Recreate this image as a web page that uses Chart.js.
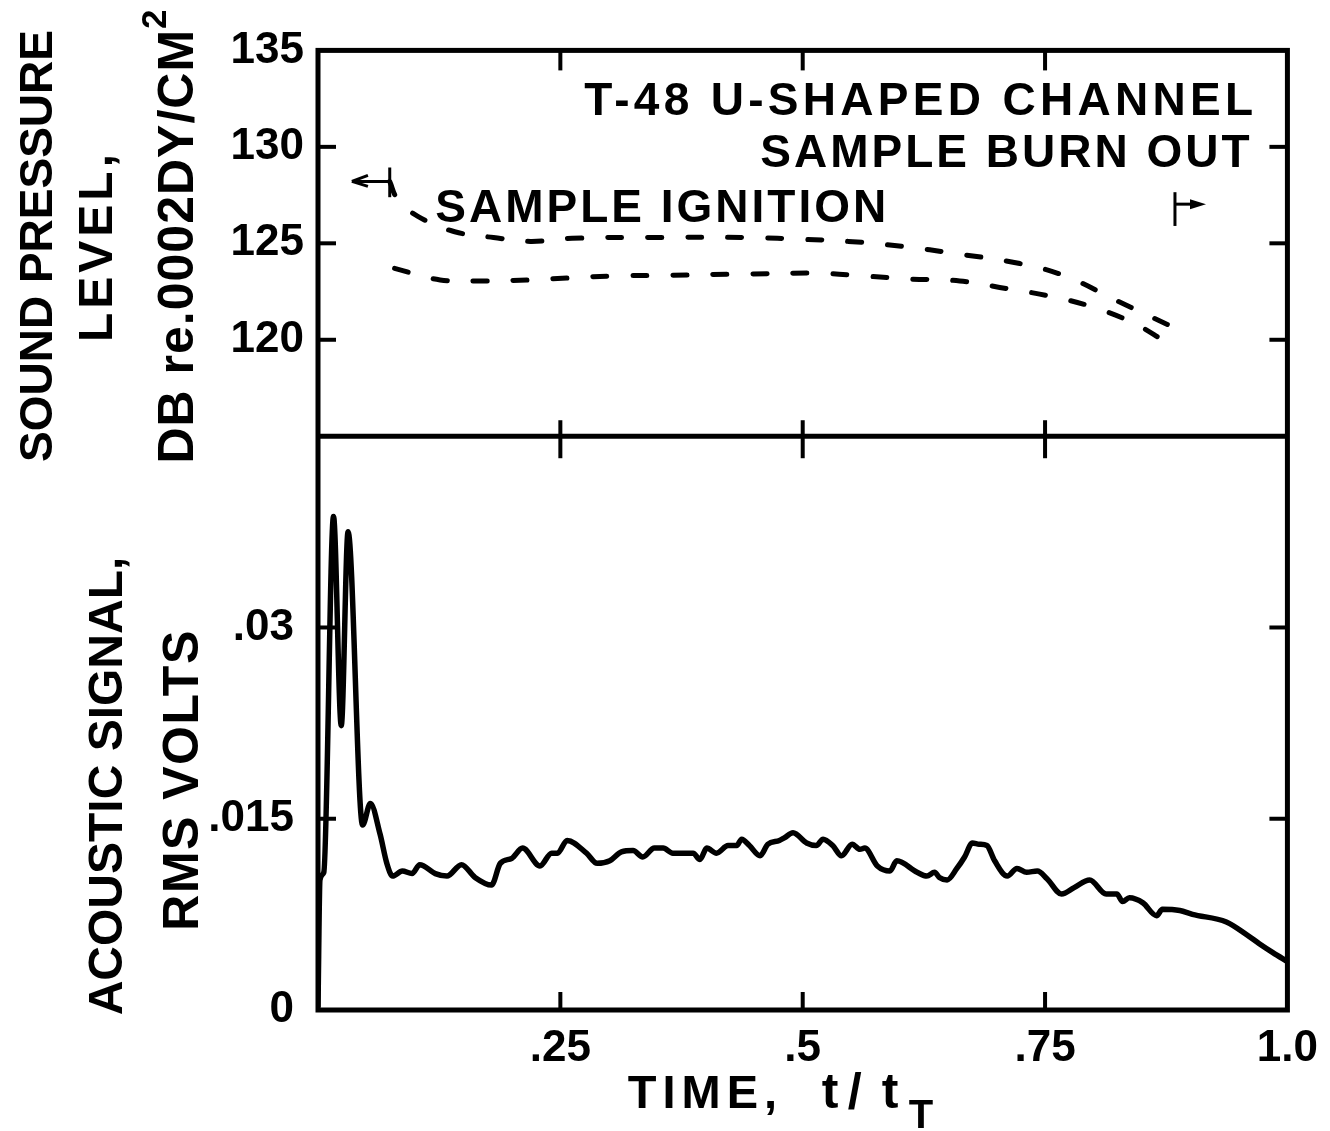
<!DOCTYPE html>
<html lang="en">
<head>
<meta charset="UTF-8">
<title>T-48 U-shaped channel: sound pressure level and acoustic signal</title>
<script src="https://cdn.jsdelivr.net/npm/chart.js@4.4.1/dist/chart.umd.min.js"></script>
<style>
  html, body { margin: 0; padding: 0; background: #fff; }
  #wrap { width: 1330px; height: 1131px; position: relative; }
</style>
</head>
<body>
<div id="wrap"><canvas id="myChart"></canvas></div>
<script>
// upper panel - sound pressure level (dB), two dashed traces
const splUpperTime = [0.074, 0.082, 0.103, 0.141, 0.181, 0.219, 0.262, 0.342, 0.445, 0.503, 0.547, 0.602, 0.660, 0.724, 0.771, 0.825, 0.878];
const splUpper     = [128.2, 127.3, 126.4, 125.6, 125.3, 125.1, 125.26, 125.3, 125.3, 125.2, 125.1, 124.85, 124.45, 123.95, 123.3, 122.0, 120.75];
const splLowerTime = [0.079, 0.126, 0.171, 0.216, 0.257, 0.301, 0.365, 0.435, 0.515, 0.565, 0.610, 0.662, 0.711, 0.751, 0.796, 0.842, 0.874];
const splLower     = [123.7, 123.1, 123.05, 123.1, 123.2, 123.3, 123.35, 123.4, 123.45, 123.3, 123.15, 123.05, 122.65, 122.3, 121.75, 120.85, 119.9];

// lower panel - acoustic signal (rms volts)
const acousticTime = [0.000, 0.002, 0.006, 0.016, 0.024, 0.031, 0.046, 0.054, 0.064, 0.071, 0.077, 0.087, 0.097, 0.105, 0.121, 0.133, 0.148, 0.162, 0.179, 0.188,
  0.200, 0.211, 0.229, 0.241, 0.247, 0.257, 0.277, 0.288, 0.301, 0.313, 0.325, 0.335, 0.347, 0.356, 0.366, 0.387, 0.394, 0.401, 0.411, 0.423,
  0.432, 0.437, 0.445, 0.456, 0.464, 0.476, 0.481, 0.490, 0.504, 0.514, 0.521, 0.531, 0.540, 0.551, 0.559, 0.564, 0.577, 0.590, 0.597, 0.618,
  0.628, 0.636, 0.641, 0.649, 0.659, 0.667, 0.675, 0.682, 0.690, 0.698, 0.711, 0.721, 0.731, 0.742, 0.752, 0.767, 0.780, 0.796, 0.813, 0.824,
  0.830, 0.837, 0.851, 0.865, 0.871, 0.889, 0.902, 0.937, 0.958, 0.971, 0.985, 1.000];
const acousticVolts = [0.0002, 0.0102, 0.0108, 0.0387, 0.0223, 0.0375, 0.0145, 0.0162, 0.0138, 0.0115, 0.0105, 0.0109, 0.0107, 0.0114, 0.0107, 0.0105, 0.0114, 0.0104, 0.0098, 0.0115,
  0.0119, 0.0127, 0.0113, 0.0123, 0.0123, 0.0133, 0.0123, 0.0115, 0.0117, 0.0124, 0.0125, 0.0120, 0.0127, 0.0127, 0.0123, 0.0123, 0.0118, 0.0127, 0.0123, 0.0129,
  0.0129, 0.0134, 0.0129, 0.0121, 0.0130, 0.0133, 0.0135, 0.0139, 0.0131, 0.0129, 0.0134, 0.0129, 0.0121, 0.0130, 0.0126, 0.0127, 0.0113, 0.0109, 0.0117, 0.0108,
  0.0105, 0.0108, 0.0104, 0.0102, 0.0111, 0.0120, 0.0131, 0.0130, 0.0129, 0.0117, 0.0105, 0.0111, 0.0108, 0.0109, 0.0103, 0.0091, 0.0096, 0.0102, 0.0091, 0.0091,
  0.0085, 0.0088, 0.0084, 0.0074, 0.0079, 0.0078, 0.0075, 0.0069, 0.0059, 0.0052, 0.0045, 0.0038];

// tick values and labels
const timeTicks = [0.25, 0.5, 0.75, 1.0];
const timeTickLabels = ['.25', '.5', '.75', '1.0'];
const splTicks = [120, 125, 130, 135];
const splTickLabels = ['120', '125', '130', '135'];
const voltTicks = [0, 0.015, 0.03];
const voltTickLabels = ['0', '.015', '.03'];

const FONT = '"Liberation Sans", Arial, sans-serif';

function pts(xs, ys) {
  return xs.map((x, i) => ({ x: x, y: ys[i] }));
}

function seg(ctx, x1, y1, x2, y2) {
  ctx.beginPath();
  ctx.moveTo(x1, y1);
  ctx.lineTo(x2, y2);
  ctx.stroke();
}

// vertical text, baseline on the right side of the letters
function vtext(ctx, s, bx, cy, size, spacing, sup) {
  ctx.save();
  ctx.translate(bx, cy);
  ctx.rotate(-Math.PI / 2);
  ctx.textBaseline = 'alphabetic';
  ctx.textAlign = 'left';
  ctx.letterSpacing = (spacing || 0) + 'px';
  ctx.font = 'bold ' + size + 'px ' + FONT;
  let w = ctx.measureText(s).width;
  let ws = 0;
  const supFont = 'bold ' + Math.round(size * 0.7) + 'px ' + FONT;
  if (sup) {
    ctx.font = supFont;
    ws = ctx.measureText(sup).width;
  }
  ctx.font = 'bold ' + size + 'px ' + FONT;
  ctx.fillText(s, -(w + ws) / 2, 0);
  if (sup) {
    ctx.font = supFont;
    ctx.fillText(sup, -(w + ws) / 2 + w, -size * 0.55);
  }
  ctx.restore();
}

function htext(ctx, s, x, y, size, align, spacing) {
  ctx.save();
  ctx.font = 'bold ' + size + 'px ' + FONT;
  ctx.letterSpacing = (spacing || 0) + 'px';
  ctx.textAlign = align;
  ctx.textBaseline = 'alphabetic';
  ctx.fillText(s, x, y);
  ctx.restore();
}

// frame, inward ticks, divider, notes and axis titles
const paperPlugin = {
  id: 'paper',
  afterDraw(chart) {
    const ctx = chart.ctx;
    const a = chart.chartArea;
    const xs = chart.scales.x;
    const yS = chart.scales.ySpl;
    const yV = chart.scales.yVolt;
    ctx.save();
    ctx.strokeStyle = '#000';
    ctx.fillStyle = '#000';
    ctx.lineWidth = 5;
    ctx.strokeRect(a.left, a.top, a.right - a.left, a.bottom - a.top);
    const mid = yS.bottom;
    seg(ctx, a.left, mid, a.right, mid);

    // ticks pointing into the panels
    ctx.lineWidth = 4;
    splTicks.slice(0, 3).forEach(v => {
      const y = yS.getPixelForValue(v);
      seg(ctx, a.left, y, a.left + 18, y);
      seg(ctx, a.right - 18, y, a.right, y);
    });
    voltTicks.slice(1).forEach(v => {
      const y = yV.getPixelForValue(v);
      seg(ctx, a.left, y, a.left + 18, y);
      seg(ctx, a.right - 18, y, a.right, y);
    });
    timeTicks.slice(0, 3).forEach(v => {
      const x = xs.getPixelForValue(v);
      seg(ctx, x, a.top, x, a.top + 20);
      seg(ctx, x, mid - 16, x, mid + 22);
      seg(ctx, x, a.bottom - 18, x, a.bottom);
    });

    // ignition / burn out markers
    ctx.lineWidth = 3;
    let x0 = xs.getPixelForValue(0.074);
    seg(ctx, x0, yS.getPixelForValue(128.93), x0, yS.getPixelForValue(127.39));
    let ya = yS.getPixelForValue(128.21);
    let xt = xs.getPixelForValue(0.035);
    seg(ctx, x0, ya, xt, ya);
    seg(ctx, xt, ya, xt + 16, ya - 6);
    seg(ctx, xt, ya, xt + 16, ya + 5);
    let x1 = xs.getPixelForValue(0.884);
    seg(ctx, x1, yS.getPixelForValue(127.65), x1, yS.getPixelForValue(125.9));
    let yb = yS.getPixelForValue(127.03);
    let xr = xs.getPixelForValue(0.916);
    seg(ctx, x1, yb, xr - 10, yb);
    ctx.beginPath();
    ctx.moveTo(xr, yb);
    ctx.lineTo(xr - 16, yb - 5);
    ctx.lineTo(xr - 16, yb + 5);
    ctx.closePath();
    ctx.fill();

    // notes inside the upper panel
    htext(ctx, 'T-48 U-SHAPED CHANNEL', xs.getPixelForValue(0.969), yS.getPixelForValue(131.66), 46, 'right', 4.3);
    htext(ctx, 'SAMPLE BURN OUT', xs.getPixelForValue(0.964), yS.getPixelForValue(128.98), 46, 'right', 3);
    htext(ctx, 'SAMPLE IGNITION', xs.getPixelForValue(0.121), yS.getPixelForValue(126.1), 46, 'left', 3);

    // x axis title, t/t with subscript T
    htext(ctx, 'TIME,', xs.getPixelForValue(0.3196), 1108, 47, 'left', 6);
    htext(ctx, 't', xs.getPixelForValue(0.5196), 1108, 50, 'left', 0);
    htext(ctx, '/', xs.getPixelForValue(0.5464), 1108, 50, 'left', 0);
    htext(ctx, 't', xs.getPixelForValue(0.5815), 1108, 50, 'left', 0);
    htext(ctx, 'T', xs.getPixelForValue(0.6093), 1128, 40, 'left', 0);

    // y axis titles
    vtext(ctx, 'SOUND PRESSURE', 52, 246, 46, 0);
    vtext(ctx, 'LEVEL,', 112, 246, 48, 4);
    vtext(ctx, 'DB re.0002DY/CM', 193, 236, 50, 1, '2');
    vtext(ctx, 'ACOUSTIC SIGNAL,', 122, 786, 48, 0);
    vtext(ctx, 'RMS VOLTS', 198, 780, 50, 1.5);
    ctx.restore();
  }
};

const lineStyle = {
  borderColor: '#000',
  pointRadius: 0,
  fill: false
};

const ctx = document.getElementById('myChart').getContext('2d');
const myChart = new Chart(ctx, {
  type: 'line',
  data: {
    datasets: [
      Object.assign({ label: 'upper SPL', data: pts(splUpperTime, splUpper), yAxisID: 'ySpl',
        borderWidth: 5, borderDash: [14, 26], borderCapStyle: 'round', tension: 0.4 }, lineStyle),
      Object.assign({ label: 'lower SPL', data: pts(splLowerTime, splLower), yAxisID: 'ySpl',
        borderWidth: 5, borderDash: [14, 26], borderCapStyle: 'round', tension: 0.4 }, lineStyle),
      Object.assign({ label: 'acoustic signal', data: pts(acousticTime, acousticVolts), yAxisID: 'yVolt',
        borderWidth: 5.5, borderJoinStyle: 'round', cubicInterpolationMode: 'monotone' }, lineStyle)
    ]
  },
  options: {
    responsive: true,
    maintainAspectRatio: false,
    animation: false,
    layout: { padding: { top: 45, right: 42, left: 0, bottom: 0 } },
    plugins: { legend: { display: false }, tooltip: { enabled: false } },
    scales: {
      x: {
        type: 'linear', min: 0, max: 1,
        grid: { display: false, drawTicks: false },
        border: { display: false },
        afterBuildTicks: s => { s.ticks = timeTicks.map(v => ({ value: v })); },
        afterFit: s => { s.height = 121; },
        ticks: {
          padding: 12, color: '#000', maxRotation: 0, autoSkip: false,
          font: { family: FONT, size: 44, weight: 'bold' },
          callback: v => timeTickLabels[timeTicks.indexOf(v)]
        }
      },
      ySpl: {
        type: 'linear', position: 'left', stack: 'panels', stackWeight: 388, weight: 2,
        min: 115, max: 135,
        grid: { display: false, drawTicks: false },
        border: { display: false },
        afterBuildTicks: s => { s.ticks = splTicks.map(v => ({ value: v })); },
        afterFit: s => { s.width = 318; },
        ticks: {
          padding: 14, color: '#000', autoSkip: false,
          font: { family: FONT, size: 44, weight: 'bold' },
          callback: v => splTickLabels[splTicks.indexOf(v)]
        }
      },
      yVolt: {
        type: 'linear', position: 'left', stack: 'panels', stackWeight: 577, weight: 1,
        min: 0, max: 0.045,
        grid: { display: false, drawTicks: false },
        border: { display: false },
        afterBuildTicks: s => { s.ticks = voltTicks.map(v => ({ value: v })); },
        afterFit: s => { s.width = 318; },
        ticks: {
          padding: 24, color: '#000', autoSkip: false,
          font: { family: FONT, size: 44, weight: 'bold' },
          callback: v => voltTickLabels[voltTicks.indexOf(v)]
        }
      }
    }
  },
  plugins: [paperPlugin]
});
</script>
</body>
</html>
